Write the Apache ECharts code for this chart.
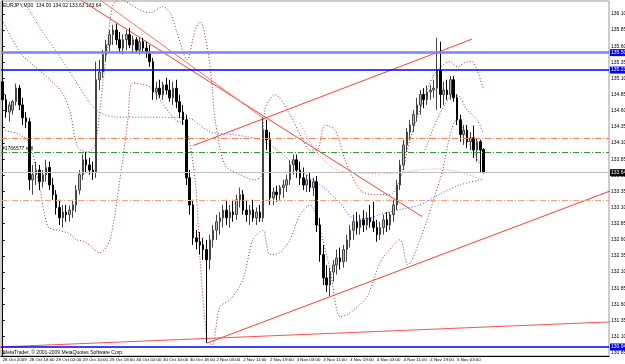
<!DOCTYPE html>
<html>
<head>
<meta charset="utf-8">
<script src="https://cdn.jsdelivr.net/npm/echarts@6/dist/echarts.min.js"></script>
<style>
  html, body { margin: 0; padding: 0; background: #fff; }
  #main { width: 625px; height: 364px; }
</style>
</head>
<body>
<div id="main"></div>
<script>
// hourly slots: 0 = 28 Oct 10:00, 144 = 5 Nov 11:00, 182 slots on the axis
const slotCount = 182
const tickSlots = [0, 8, 16, 24, 32, 40, 48, 56, 64, 72, 80, 88, 96, 104, 112, 120, 128, 136]
const tickLabels = ['28 Oct 2009', '28 Oct 18:00', '29 Oct 02:00', '29 Oct 10:00', '29 Oct 18:00',
  '30 Oct 02:00', '30 Oct 10:00', '30 Oct 18:00', '2 Nov 03:00', '2 Nov 11:00', '2 Nov 19:00',
  '3 Nov 03:00', '3 Nov 11:00', '3 Nov 19:00', '4 Nov 03:00', '4 Nov 11:00', '4 Nov 19:00', '5 Nov 03:00']
const priceTicks = [130.85, 131.10, 131.35, 131.60, 131.85, 132.10, 132.35, 132.60, 132.85, 133.10,
  133.35, 133.60, 133.85, 134.10, 134.35, 134.60, 134.85, 135.10, 135.35, 135.60, 135.85, 136.10]

// [open, close, low, high]
const candles = [
  [135.05, 134.77, 134.69, 135.11], [134.77, 134.58, 134.49, 134.85], [134.58, 134.69, 134.43, 134.74],
  [134.61, 134.74, 134.54, 134.77], [134.74, 134.95, 134.68, 135.02], [134.95, 134.69, 134.61, 135.00],
  [134.69, 134.49, 134.38, 134.80], [134.49, 134.43, 134.33, 134.58], [134.43, 133.53, 133.37, 134.49],
  [133.53, 133.61, 133.30, 133.76], [133.61, 133.68, 133.45, 133.81], [133.68, 133.50, 133.37, 133.76],
  [133.50, 133.61, 133.41, 133.68], [133.61, 133.72, 133.50, 133.84], [133.72, 133.45, 133.37, 133.81],
  [133.45, 133.30, 133.22, 133.56], [133.30, 133.10, 132.99, 133.37], [133.10, 132.94, 132.83, 133.22],
  [132.94, 133.03, 132.79, 133.14], [133.03, 132.99, 132.88, 133.14], [132.99, 133.06, 132.88, 133.13],
  [133.06, 133.14, 132.94, 133.22], [133.14, 133.37, 133.03, 133.45], [133.37, 133.61, 133.30, 133.68],
  [133.61, 133.84, 133.53, 133.92], [133.84, 133.76, 133.65, 133.96], [133.76, 133.68, 133.61, 133.87],
  [133.68, 133.65, 133.53, 133.81], [133.65, 135.08, 133.56, 135.36], [135.08, 135.20, 134.92, 135.39],
  [135.20, 135.47, 135.11, 135.54], [135.47, 135.62, 135.36, 135.70], [135.62, 135.78, 135.51, 135.85],
  [135.78, 135.85, 135.62, 135.93], [135.85, 135.70, 135.62, 135.95], [135.70, 135.57, 135.51, 135.82],
  [135.57, 135.70, 135.47, 135.78], [135.70, 135.78, 135.54, 135.85], [135.78, 135.62, 135.57, 135.88],
  [135.62, 135.70, 135.50, 135.76], [135.70, 135.54, 135.50, 135.74], [135.54, 135.67, 135.47, 135.73],
  [135.67, 135.57, 135.50, 135.73], [135.57, 135.51, 135.42, 135.67], [135.51, 135.36, 135.28, 135.62],
  [135.36, 134.89, 134.77, 135.42], [134.89, 134.95, 134.77, 135.05], [134.95, 134.85, 134.80, 135.08],
  [134.85, 135.00, 134.77, 135.05], [135.00, 134.92, 134.85, 135.11], [134.92, 134.80, 134.74, 135.08],
  [134.80, 134.95, 134.69, 135.05], [134.95, 134.74, 134.64, 135.08], [134.74, 134.58, 134.49, 134.85],
  [134.58, 134.46, 134.38, 134.69], [134.46, 133.56, 133.45, 134.54], [133.56, 133.14, 132.99, 133.68],
  [133.14, 132.63, 132.52, 133.22], [132.63, 132.57, 132.45, 132.75], [132.57, 132.52, 132.37, 132.72],
  [132.52, 132.45, 132.29, 132.63], [132.45, 132.29, 131.00, 132.60], [132.29, 132.60, 132.14, 132.68],
  [132.60, 132.75, 132.48, 132.83], [132.75, 132.88, 132.60, 132.99], [132.88, 132.94, 132.68, 133.03],
  [132.94, 133.06, 132.79, 133.14], [133.06, 132.94, 132.83, 133.22], [132.94, 133.03, 132.79, 133.14],
  [133.03, 132.99, 132.88, 133.22], [132.99, 133.22, 132.91, 133.30], [133.22, 133.30, 133.10, 133.41],
  [133.30, 133.06, 132.99, 133.37], [133.06, 132.99, 132.88, 133.22], [132.99, 133.06, 132.83, 133.14],
  [133.06, 132.94, 132.88, 133.22], [132.94, 133.03, 132.83, 133.10], [133.03, 132.94, 132.88, 133.14],
  [132.94, 134.30, 132.88, 134.50], [134.30, 134.15, 133.99, 134.46], [134.15, 133.25, 133.14, 134.27],
  [133.25, 133.34, 133.14, 133.41], [133.34, 133.30, 133.19, 133.44], [133.30, 133.41, 133.22, 133.45],
  [133.41, 133.45, 133.25, 133.53], [133.45, 133.53, 133.34, 133.61], [133.53, 133.76, 133.45, 133.84],
  [133.76, 133.84, 133.61, 133.92], [133.84, 133.68, 133.56, 133.92], [133.68, 133.56, 133.45, 133.81],
  [133.56, 133.45, 133.37, 133.72], [133.45, 133.53, 133.34, 133.61], [133.53, 133.41, 133.34, 133.65],
  [133.41, 133.50, 133.28, 133.56], [133.50, 132.83, 132.72, 133.59], [132.83, 132.37, 132.26, 132.94],
  [132.37, 132.01, 131.90, 132.52], [132.01, 131.90, 131.79, 132.21], [131.90, 132.10, 131.73, 132.17],
  [132.10, 132.21, 131.95, 132.29], [132.21, 132.32, 132.06, 132.45], [132.32, 132.26, 132.14, 132.48],
  [132.26, 132.45, 132.17, 132.52], [132.45, 132.60, 132.26, 132.68], [132.60, 132.75, 132.48, 132.83],
  [132.75, 132.88, 132.60, 132.99], [132.88, 132.79, 132.68, 133.03], [132.79, 132.91, 132.68, 132.99],
  [132.91, 132.83, 132.72, 133.06], [132.83, 132.94, 132.75, 133.03], [132.94, 132.88, 132.79, 133.14],
  [132.88, 132.79, 132.72, 133.19], [132.79, 132.68, 132.57, 132.91], [132.68, 132.79, 132.60, 132.88],
  [132.79, 132.91, 132.68, 132.99], [132.91, 132.83, 132.72, 133.03], [132.83, 132.99, 132.75, 133.03],
  [132.99, 133.14, 132.88, 133.22], [133.14, 133.45, 133.06, 133.53], [133.45, 133.76, 133.37, 133.84],
  [133.76, 134.07, 133.68, 134.15], [134.07, 134.27, 133.96, 134.33], [134.27, 134.38, 134.15, 134.46],
  [134.38, 134.54, 134.27, 134.61], [134.54, 134.69, 134.43, 134.80], [134.69, 134.85, 134.54, 134.92],
  [134.85, 134.77, 134.64, 134.95], [134.77, 134.89, 134.69, 134.99], [134.89, 134.92, 134.77, 135.00],
  [134.92, 134.95, 134.80, 135.08], [134.95, 135.23, 134.61, 135.73], [135.23, 134.85, 134.64, 135.67],
  [134.85, 134.92, 134.69, 135.05], [134.92, 134.85, 134.77, 135.08], [134.85, 135.08, 134.77, 135.14],
  [135.08, 134.80, 134.74, 135.14], [134.80, 134.46, 134.38, 134.85], [134.46, 134.23, 134.12, 134.54],
  [134.23, 134.30, 134.07, 134.38], [134.30, 134.12, 134.02, 134.38], [134.12, 134.18, 133.99, 134.27],
  [134.18, 133.99, 133.87, 134.37], [133.99, 134.12, 133.81, 134.18], [134.12, 133.99, 133.65, 134.15],
  [134.00, 133.64, 133.63, 134.02]
]

// long moving average (blue dotted), [slot, price]
const maSlow = [[7.3, 136.21], [12.1, 135.81], [17.2, 135.43], [22.2, 135.03], [26.1, 134.72],
  [29.1, 134.57], [34.2, 134.50], [44.1, 134.50], [55.2, 134.49], [62.1, 134.27], [68.9, 134.23],
  [77.0, 134.15], [83.0, 133.96], [89.0, 133.68], [95.9, 133.42], [101.0, 133.17], [104.9, 132.94],
  [109.0, 132.93], [112.9, 132.99], [118.9, 133.07], [124.9, 133.14], [130.9, 133.31], [136.9, 133.45],
  [143.8, 133.54]]

// medium moving average (pink dotted)
const maMid = [[89.0, 134.41], [94.1, 133.95], [100.1, 133.68], [106.1, 133.64], [112.9, 133.62],
  [118.9, 133.64], [128.8, 133.70], [136.9, 133.65], [143.8, 133.53]]

// bollinger bands (dark red dotted)
const bandUpper = [[-0.2, 136.01], [5.2, 135.50], [9.1, 135.31], [14.2, 135.08], [17.8, 134.88],
  [20.2, 134.58], [22.5, 134.03], [25.5, 133.96], [27.6, 134.07], [29.1, 134.61], [30.0, 135.03],
  [31.2, 135.54], [33.0, 136.24], [35.1, 136.32], [41.1, 136.16], [44.1, 136.12], [48.0, 136.21],
  [50.1, 136.12], [52.2, 135.81], [55.2, 135.39], [57.6, 135.85], [59.1, 135.98], [61.5, 135.50],
  [62.7, 134.97], [63.6, 134.46], [66.5, 133.76], [71.0, 133.61], [75.5, 133.53], [77.6, 133.61],
  [78.5, 134.61], [81.5, 134.85], [86.0, 134.54], [89.0, 134.23], [92.0, 133.99], [94.1, 133.99],
  [96.5, 134.38], [99.5, 134.30], [102.5, 133.84], [107.0, 133.37], [111.4, 133.30], [115.9, 133.30],
  [118.9, 133.53], [121.9, 134.15], [124.9, 134.61], [128.8, 135.13], [131.8, 135.31], [133.9, 135.36],
  [136.0, 135.28], [139.0, 135.36], [140.5, 135.36], [142.0, 135.23], [143.8, 134.95]]
const bandLower = [[-0.2, 134.30], [5.2, 134.23], [8.2, 134.07], [11.2, 133.37], [13.6, 132.80],
  [16.3, 132.75], [19.3, 132.71], [22.2, 132.60], [24.6, 132.57], [29.1, 132.40], [32.1, 132.60],
  [35.1, 133.53], [37.5, 134.46], [39.0, 135.03], [44.1, 134.97], [47.1, 134.77], [51.6, 134.46],
  [54.6, 134.38], [57.6, 133.53], [59.1, 132.29], [61.2, 131.05], [62.7, 130.97], [65.0, 131.56],
  [68.0, 131.67], [71.9, 131.98], [74.9, 132.60], [77.9, 132.75], [80.0, 132.37], [83.0, 132.40],
  [86.0, 132.60], [89.0, 132.99], [92.0, 133.14], [95.0, 132.75], [98.0, 132.14], [101.0, 131.41],
  [103.1, 131.44], [106.1, 131.56], [109.1, 131.72], [112.9, 132.24], [115.0, 132.40], [118.9, 132.60],
  [121.3, 132.21], [124.9, 132.60], [130.9, 133.53], [136.0, 134.46], [139.9, 134.07], [143.8, 133.68]]
const bandInner = [[126.4, 133.99], [130.0, 134.46], [133.9, 134.81], [136.0, 134.85], [139.0, 134.61],
  [142.0, 134.46], [143.8, 134.26]]

// trend lines, [slot, price] end points
const trendDown1 = [[23.2, 136.32], [125.5, 132.96]]
const trendDown2 = [[29.1, 136.32], [77.9, 134.49]]
const trendUp1 = [[57.0, 134.06], [140.5, 135.71]]
const trendUp2 = [[61.2, 131.00], [182.5, 133.37]]
const trendFlat = [[-0.8, 130.94], [182.5, 131.33]]

// horizontal levels
const blueLevels = [135.50, 135.23, 130.94]
const orangeLevels = [134.18, 133.22]
const orderLevel = 133.96
const bidPrice = 133.64

const chart = echarts.init(document.getElementById('main'))
const tickSet = new Set(tickSlots)
const font = 'Liberation Sans'

const hLine = (value, color, width, type, label) => ({
  yAxis: value,
  lineStyle: { color: color, width: width, type: type },
  label: label || { show: false }
})
const boxLabel = (bg) => ({
  show: true, position: 'end', distance: 1, formatter: (p) => p.value.toFixed(2),
  color: '#fff', backgroundColor: bg, fontSize: 5, fontFamily: font, padding: [1, 1]
})

const trend = (data, color) => ({
  type: 'line', xAxisIndex: 1, data: data, symbol: 'none', silent: true,
  lineStyle: { color: color, width: 1 }, z: 3
})
const dotted = (data, color) => ({
  type: 'line', xAxisIndex: 1, data: data, symbol: 'none', silent: true, smooth: 0.3,
  lineStyle: { color: color, width: 1, type: [1, 2] }, z: 2
})

const option = {
  animation: false,
  grid: {
    left: 1, right: 16, top: 1, bottom: 8, show: true, borderColor: '#9a9a9a', borderWidth: 1,
    outerBoundsMode: 'none', containLabel: false
  },
  xAxis: [
    {
      type: 'category',
      data: Array.from({ length: slotCount }, (_, i) => i),
      boundaryGap: true,
      axisLine: { lineStyle: { color: '#000' } },
      axisTick: { interval: (i) => tickSet.has(i), alignWithLabel: true, length: 2, lineStyle: { color: '#000' } },
      axisLabel: {
        interval: (i) => tickSet.has(i),
        formatter: (v, i) => tickLabels[tickSlots.indexOf(i)] || '',
        align: 'left', fontSize: 4.4, fontFamily: font, color: '#000', margin: 2,
        hideOverlap: false, showMinLabel: true, showMaxLabel: true
      },
      splitLine: { show: false }
    },
    { type: 'value', min: -0.5, max: slotCount - 0.5, show: false }
  ],
  yAxis: {
    type: 'value', position: 'right', min: 130.80, max: 136.30, scale: true,
    axisLine: { show: true, lineStyle: { color: '#000' } },
    axisTick: { show: true, length: 2, customValues: priceTicks, lineStyle: { color: '#000' } },
    axisLabel: {
      customValues: priceTicks, formatter: (v) => v.toFixed(2), fontSize: 5, fontFamily: font,
      color: '#000', margin: 2, hideOverlap: false
    },
    splitLine: { show: false }
  },
  graphic: [
    { type: 'text', left: 3, top: 3, style: { text: 'EURJPY,M30  134.00 134.02 133.63 133.64', fontSize: 5, fontFamily: font, fill: '#000' } },
    { type: 'text', left: 3, top: 350, style: { text: 'MetaTrader, © 2001-2009 MetaQuotes Software Corp.', fontSize: 5, fontFamily: font, fill: '#000' } }
  ],
  series: [
    {
      type: 'candlestick',
      data: candles,
      barWidth: 2,
      itemStyle: { color: '#b8b8b8', color0: '#000', borderColor: '#444', borderColor0: '#000', borderWidth: 1 },
      silent: true,
      z: 4,
      markLine: {
        silent: true, symbol: ['none', 'none'], animation: false, precision: 2,
        data: [
          hLine(orangeLevels[0], '#ff7f50', 1, [6, 2, 1, 2]),
          hLine(orangeLevels[1], '#ffa07a', 1, [6, 2, 1, 2]),
          hLine(orderLevel, '#32a032', 1, [6, 2, 1, 2], {
            show: true, position: 'insideStartTop', distance: 1, formatter: '#1766577 sell',
            fontSize: 5, fontFamily: font, color: '#000'
          }),
          hLine(bidPrice, '#c0c0c0', 1, 'solid', boxLabel('#000')),
          hLine(blueLevels[0], '#7f7fff', 2.5, 'solid', boxLabel('#0000ff')),
          hLine(blueLevels[1], '#0000ff', 1.5, 'solid', boxLabel('#0000ff')),
          hLine(blueLevels[2], '#0000ff', 1.5, 'solid', boxLabel('#0000ff'))
        ]
      }
    },
    dotted(maSlow, '#5050ff'),
    dotted(maMid, '#f08080'),
    dotted(bandUpper, '#a03232'),
    dotted(bandLower, '#a03232'),
    dotted(bandInner, '#a03232'),
    trend(trendDown1, '#ff4040'),
    trend(trendDown2, '#ff7070'),
    trend(trendUp1, '#ff4040'),
    trend(trendUp2, '#ff4040'),
    trend(trendFlat, '#ff5050')
  ]
}

chart.setOption(option)
</script>
</body>
</html>
